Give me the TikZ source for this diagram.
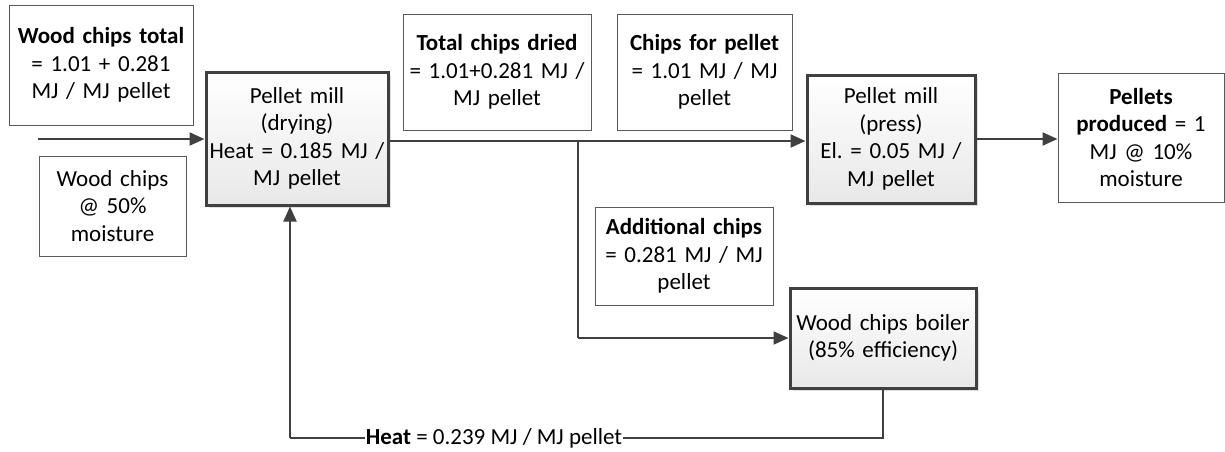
\documentclass[tikz,border=0pt]{standalone}
\usepackage{fontspec}
\setmainfont{Carlito}
\frenchspacing
\usetikzlibrary{arrows.meta,shadows,calc}
\definecolor{ln}{HTML}{404040}
\definecolor{bx}{HTML}{595959}
\tikzset{
  x=1pt,y=1pt,
  txt/.style={font=\fontsize{23}{27.5}\selectfont},
  infobox/.style={txt,draw=bx,line width=1pt,fill=white,inner sep=0pt,align=center},
  procbox/.style={txt,draw=ln,line width=3pt,top color=white,bottom color=gray!18,inner sep=0pt,align=center,
    drop shadow={opacity=0.25,shadow xshift=3pt,shadow yshift=-3pt}},
  flow/.style={draw=ln,line width=2pt,-{Triangle[length=15pt,width=13pt]}},
  plainflow/.style={draw=ln,line width=2pt},
}
\begin{document}
\begin{tikzpicture}
\useasboundingbox (0,0) rectangle (1225,-451);

\node[infobox,minimum width=184,minimum height=120,text width=180] (wct) at (101,-65)
  {\textbf{Wood chips total}\\= 1.01 + 0.281\\MJ / MJ pellet};
\node[infobox,minimum width=147,minimum height=100,text width=143] (wcf) at (112.5,-206)
  {Wood chips\\@ 50\%\\moisture};
\node[procbox,minimum width=182,minimum height=133,text width=178] (dry) at (297,-138.5)
  {Pellet mill\\(drying)\\Heat = 0.185 MJ /\\MJ pellet};
\node[infobox,minimum width=188,minimum height=116,text width=184] (tcd) at (497,-72)
  {\textbf{Total chips dried}\\= 1.01+0.281 MJ /\\MJ pellet};
\node[infobox,minimum width=175,minimum height=116,text width=171] (cfp) at (704.5,-72)
  {\textbf{Chips for pellet}\\= 1.01 MJ / MJ\\pellet};
\node[procbox,minimum width=168,minimum height=128,text width=164] (press) at (891,-139)
  {Pellet mill\\(press)\\El. = 0.05 MJ /\\MJ pellet};
\node[infobox,minimum width=166,minimum height=129,text width=162] (pel) at (1141,-137.5)
  {\textbf{Pellets}\\\textbf{produced} = 1\\MJ @ 10\%\\moisture};
\node[infobox,minimum width=178,minimum height=98,text width=174] (add) at (684,-256)
  {\textbf{Additional chips}\\= 0.281 MJ / MJ\\pellet};
\node[procbox,minimum width=186,minimum height=100,text width=182] (boil) at (883,-338)
  {Wood chips boiler\\(85\% efficiency)};

\coordinate (in) at (38,-139);
\coordinate (br) at (578,-141);
\coordinate (bl) at (883,-438);
\coordinate (br2) at (290,-438);

\draw[flow] (in) -- (in -| dry.west);
\draw[flow] (dry.east |- br) -- (press.west |- br);
\draw[plainflow] (br) -- (br |- boil.west);
\draw[flow] (br |- boil.west) -- (boil.west);
\draw[flow] (press.east) -- (press.east -| pel.west);
\draw[plainflow] (boil.south) -- (bl) -- (br2);
\draw[flow] (br2) -- (br2 |- dry.south);
\node[txt,fill=white,inner sep=1pt] (hl) at (494,-438)
  {\textbf{Heat} = 0.239 MJ / MJ pellet};
\end{tikzpicture}
\end{document}
